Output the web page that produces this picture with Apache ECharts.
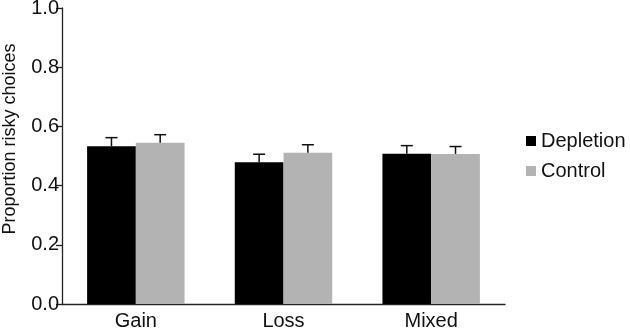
<!DOCTYPE html>
<html>
<head>
<meta charset="utf-8">
<script src="https://cdn.jsdelivr.net/npm/echarts@6/dist/echarts.min.js"></script>
<style>
  html, body { margin: 0; padding: 0; background: #fff; }
  #chart { width: 630px; height: 332px; }
</style>
</head>
<body>
<div id="chart"></div>
<script>
// data
var categories = ['Gain', 'Loss', 'Mixed'];
var depletion = [0.533, 0.479, 0.508];
var control = [0.545, 0.511, 0.507];
var depletionErr = [0.029, 0.027, 0.027];
var controlErr = [0.027, 0.027, 0.025];
var yTicks = [0, 0.2, 0.4, 0.6, 0.8, 1.0];

var FONT = '"Liberation Sans", Arial, sans-serif';
var GAP = 0.34; // barCategoryGap as a fraction

// error bar (upward only) drawn with custom series
function errorRenderer(values, errs, side) {
    return function (params, api) {
        var i = api.value(0);
        var base = api.coord([i, values[i]]);
        var top = api.coord([i, values[i] + errs[i]]);
        var bandW = api.size([1, 0])[0];
        var barW = bandW * (1 - GAP) / 2;
        var x = base[0] + side * barW / 2;
        var cap = 6;
        var style = { stroke: '#111', lineWidth: 1.5 };
        return {
            type: 'group',
            children: [
                { type: 'line', shape: { x1: x, y1: base[1], x2: x, y2: top[1] }, style: style },
                { type: 'line', shape: { x1: x - cap, y1: top[1], x2: x + cap, y2: top[1] }, style: style }
            ]
        };
    };
}

var myChart = echarts.init(document.getElementById('chart'));
var option = {
    animation: false,
    textStyle: { fontFamily: FONT, color: '#111' },
    grid: { left: 62, right: 125, top: 8, bottom: 28, containLabel: false, outerBoundsMode: 'none' },
    legend: {
        data: [
            { name: 'Depletion', itemStyle: { color: '#000' } },
            { name: 'Control', itemStyle: { color: '#b3b3b3' } }
        ],
        orient: 'vertical',
        left: 521,
        top: 126,
        icon: 'rect',
        itemWidth: 10,
        itemHeight: 10,
        itemGap: 10,
        itemTextGap: 13,
        textStyle: { fontFamily: FONT, fontSize: 20, color: '#111' }
    },
    xAxis: {
        type: 'category',
        data: categories,
        axisLine: { lineStyle: { color: '#222', width: 1.3 } },
        axisTick: { alignWithLabel: true, length: 5, lineStyle: { color: '#222', width: 1.3 } },
        axisLabel: { fontFamily: FONT, fontSize: 20, color: '#111', margin: 7 }
    },
    yAxis: {
        type: 'value',
        min: 0,
        max: 1,
        interval: 0.2,
        name: 'Proportion risky choices',
        nameLocation: 'middle',
        nameGap: 43,
        nameTextStyle: { fontFamily: FONT, fontSize: 18, color: '#111', padding: [0, 0, 0, 34] },
        splitLine: { show: false },
        axisLine: { show: true, lineStyle: { color: '#222', width: 1.3 } },
        axisTick: { show: true, length: 6, lineStyle: { color: '#222', width: 1.3 } },
        axisLabel: {
            fontFamily: FONT, fontSize: 20, color: '#111', margin: 3,
            formatter: function (v) { return v.toFixed(1); }
        }
    },
    series: [
        {
            name: 'Depletion',
            type: 'bar',
            data: depletion,
            barGap: '0%',
            barCategoryGap: (GAP * 100) + '%',
            itemStyle: { color: '#000' }
        },
        {
            name: 'Control',
            type: 'bar',
            data: control,
            barGap: '0%',
            barCategoryGap: (GAP * 100) + '%',
            itemStyle: { color: '#b3b3b3' }
        },
        {
            name: 'errDepletion',
            type: 'custom',
            data: categories.map(function (c, i) { return [i, depletion[i] + depletionErr[i]]; }),
            renderItem: errorRenderer(depletion, depletionErr, -1),
            z: 5
        },
        {
            name: 'errControl',
            type: 'custom',
            data: categories.map(function (c, i) { return [i, control[i] + controlErr[i]]; }),
            renderItem: errorRenderer(control, controlErr, 1),
            z: 5
        }
    ]
};
myChart.setOption(option);
</script>
</body>
</html>
